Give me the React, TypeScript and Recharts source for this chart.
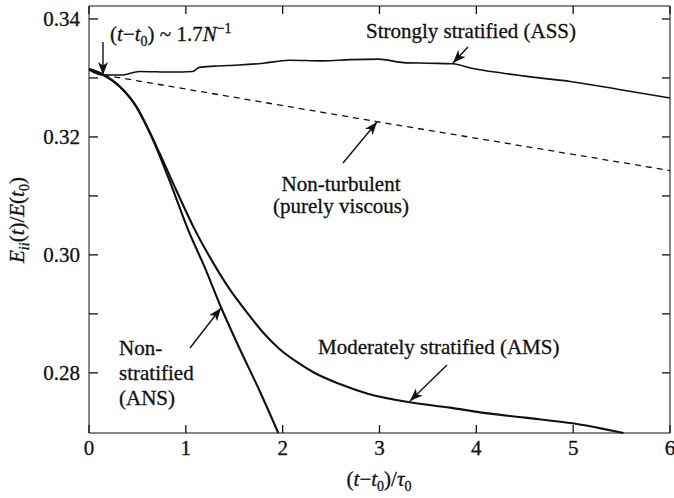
import React from 'react';
import { LineChart, Line, XAxis, YAxis } from 'recharts';

// strongly stratified (ASS)
const assT = [0, 0.14, 0.34, 0.52, 0.86, 1.07, 1.14, 1.3, 1.55, 1.8, 2.07, 2.41, 2.7, 2.99, 3.25, 3.5, 3.76, 3.94, 4.28, 4.6, 4.97, 5.49, 6.0];
const assE = [0.3314, 0.3305, 0.3305, 0.3311, 0.331, 0.3311, 0.3318, 0.332, 0.3322, 0.3325, 0.333, 0.3329, 0.3331, 0.3332, 0.3326, 0.3325, 0.3324, 0.3317, 0.3308, 0.3301, 0.3294, 0.328, 0.3266];

// non-turbulent, purely viscous
const viscT = [0.15, 2.97, 6.0];
const viscE = [0.3305, 0.3226, 0.3143];

// moderately stratified (AMS)
const amsT = [0, 0.15, 0.32, 0.49, 0.63, 0.73, 0.9, 1.095, 1.284, 1.456, 1.628, 1.8, 1.97, 2.15, 2.317, 2.59, 2.87, 3.315, 3.73, 4.04, 4.5, 5.01, 5.31, 5.52];
const amsE = [0.3315, 0.3305, 0.3285, 0.3251, 0.3207, 0.3172, 0.311, 0.3042, 0.2986, 0.2941, 0.2903, 0.2868, 0.284, 0.2818, 0.2801, 0.2781, 0.2765, 0.275, 0.2741, 0.2733, 0.2724, 0.2714, 0.2705, 0.2698];

// non-stratified (ANS)
const ansT = [0, 0.15, 0.32, 0.49, 0.63, 0.73, 0.85, 1.025, 1.2, 1.353, 1.55, 1.766, 1.955];
const ansE = [0.3315, 0.3305, 0.3285, 0.3251, 0.3206, 0.3168, 0.3118, 0.3042, 0.2977, 0.2915, 0.2843, 0.2768, 0.2698];

const xTicks = [0, 1, 2, 3, 4, 5, 6];
const yTicks = [0.28, 0.29, 0.3, 0.31, 0.32, 0.33, 0.34];
const yLabelled = [0.28, 0.3, 0.32, 0.34];

const toPoints = (t: number[], e: number[]) => t.map((x, i) => ({ x, y: e[i] }));

const FONT = 'Liberation Serif';
const INK = '#111';
const TICK = 8;
const txt = { fontFamily: FONT, fontSize: 21, fill: INK, stroke: INK, strokeWidth: 0.3 };

// labels only, the frame axes carry the tick marks
const BottomLabel = ({ x, y, payload }: any) => (
  <text x={x} y={y} dy="0.71em" textAnchor="middle" style={txt}>
    {payload.value}
  </text>
);
const LeftLabel = ({ x, y, payload }: any) =>
  yLabelled.some((l) => Math.abs(l - payload.value) < 1e-6) ? (
    <text x={x} y={y} dy="0.355em" textAnchor="end" style={txt}>
      {payload.value.toFixed(2)}
    </text>
  ) : (
    <g />
  );

// inward tick marks
const BottomTick = ({ x, y }: any) => <line x1={x} y1={y} x2={x} y2={y - TICK} stroke={INK} strokeWidth={1.3} />;
const TopTick = ({ x, y }: any) => <line x1={x} y1={y} x2={x} y2={y + TICK} stroke={INK} strokeWidth={1.3} />;
const LeftTick = ({ x, y }: any) => <line x1={x} y1={y} x2={x + TICK + 1} y2={y} stroke={INK} strokeWidth={1.3} />;
const RightTick = ({ x, y }: any) => <line x1={x} y1={y} x2={x - TICK} y2={y} stroke={INK} strokeWidth={1.3} />;

const frame = { type: 'number' as const, tickLine: false, tickSize: 0, tickMargin: 0, stroke: INK };

const App: React.FC = () => {
  const sub = { fontSize: 14 };

  return (
    <div style={{ position: 'absolute', left: 0, top: 0, width: 674, height: 498, background: '#fff', fontFamily: FONT }}>
      <LineChart width={674} height={498} margin={{ top: 5, right: 3, bottom: 0, left: 0 }}>
        <XAxis xAxisId="bx" type="number" dataKey="x" domain={[0, 6]} ticks={xTicks} height={64} axisLine={false} tickLine={false} tickSize={0} tickMargin={6} tick={<BottomLabel />} />
        <YAxis yAxisId="ly" type="number" domain={[0.2698, 0.3422]} ticks={yTicks} width={88} axisLine={false} tickLine={false} tickSize={0} tickMargin={8} tick={<LeftLabel />} />
        <XAxis xAxisId="ba" {...frame} dataKey="x" domain={[0, 6]} ticks={xTicks} height={1} tick={<BottomTick />} />
        <XAxis xAxisId="t" orientation="top" {...frame} dataKey="x" domain={[0, 6]} ticks={xTicks} height={1} tick={<TopTick />} />
        <YAxis yAxisId="la" {...frame} domain={[0.2698, 0.3422]} ticks={yTicks} width={1} tick={<LeftTick />} />
        <YAxis yAxisId="r" orientation="right" {...frame} domain={[0.2698, 0.3422]} ticks={yTicks} width={1} tick={<RightTick />} />
        <Line xAxisId="t" yAxisId="r" data={toPoints(viscT, viscE)} dataKey="y" type="linear" stroke={INK} strokeWidth={1.3} strokeDasharray="6 5" dot={false} isAnimationActive={false} />
        <Line xAxisId="ba" yAxisId="la" data={toPoints(assT, assE)} dataKey="y" type="monotone" stroke={INK} strokeWidth={1.6} dot={false} isAnimationActive={false} />
        <Line xAxisId="ba" yAxisId="la" data={toPoints(amsT, amsE)} dataKey="y" type="monotone" stroke={INK} strokeWidth={2.1} dot={false} isAnimationActive={false} />
        <Line xAxisId="bx" yAxisId="ly" data={toPoints(ansT, ansE)} dataKey="y" type="monotone" stroke={INK} strokeWidth={2.1} dot={false} isAnimationActive={false} />
      </LineChart>

      <svg width={674} height={498} style={{ position: 'absolute', left: 0, top: 0, pointerEvents: 'none' }}>
        <defs>
          <marker id="head" markerUnits="userSpaceOnUse" markerWidth={13} markerHeight={10} refX={13} refY={5} orient="auto">
            <path d="M0,0 L13,5 L0,10 L3.5,5 Z" fill={INK} />
          </marker>
        </defs>

        {/* arrows */}
        <g stroke={INK} strokeWidth={1.4}>
          <line x1={103} y1={42} x2={103} y2={75} markerEnd="url(#head)" />
          <line x1={468} y1={47} x2={453} y2={63} markerEnd="url(#head)" />
          <line x1={343} y1={163} x2={377} y2={122} markerEnd="url(#head)" />
          <line x1={190} y1={348} x2={221} y2={308} markerEnd="url(#head)" />
          <line x1={447} y1={365} x2={410} y2={401} markerEnd="url(#head)" />
        </g>

        <g style={txt}>
          <text x={110} y={41} style={txt}>
            (<tspan fontStyle="italic">t</tspan>−<tspan fontStyle="italic">t</tspan>
            <tspan dy={5} style={sub}>0</tspan>
            <tspan dy={-5}>) ~ 1.7</tspan>
            <tspan fontStyle="italic">N</tspan>
            <tspan dy={-8} style={sub}>−1</tspan>
          </text>

          <text x={471} y={38} textAnchor="middle" style={txt}>Strongly stratified (ASS)</text>
          <text x={341} y={191} textAnchor="middle" style={txt}>Non-turbulent</text>
          <text x={341} y={213} textAnchor="middle" style={txt}>(purely viscous)</text>
          <text x={119} y={355} style={txt}>Non-</text>
          <text x={119} y={380} style={txt}>stratified</text>
          <text x={119} y={405} style={txt}>(ANS)</text>
          <text x={318} y={354} style={txt}>Moderately stratified (AMS)</text>

          <text x={379} y={486} textAnchor="middle" style={txt}>
            (<tspan fontStyle="italic">t</tspan>−<tspan fontStyle="italic">t</tspan>
            <tspan dy={5} style={sub}>0</tspan>
            <tspan dy={-5}>)/</tspan>
            <tspan fontStyle="italic">τ</tspan>
            <tspan dy={5} style={sub}>0</tspan>
          </text>

          <text transform="translate(24 220) rotate(-90)" textAnchor="middle" style={txt}>
            <tspan fontStyle="italic">E</tspan>
            <tspan dy={5} style={sub} fontStyle="italic">ii</tspan>
            <tspan dy={-5}>(</tspan>
            <tspan fontStyle="italic">t</tspan>)/<tspan fontStyle="italic">E</tspan>(<tspan fontStyle="italic">t</tspan>
            <tspan dy={5} style={sub}>0</tspan>
            <tspan dy={-5}>)</tspan>
          </text>
        </g>
      </svg>
    </div>
  );
};

export default App;
